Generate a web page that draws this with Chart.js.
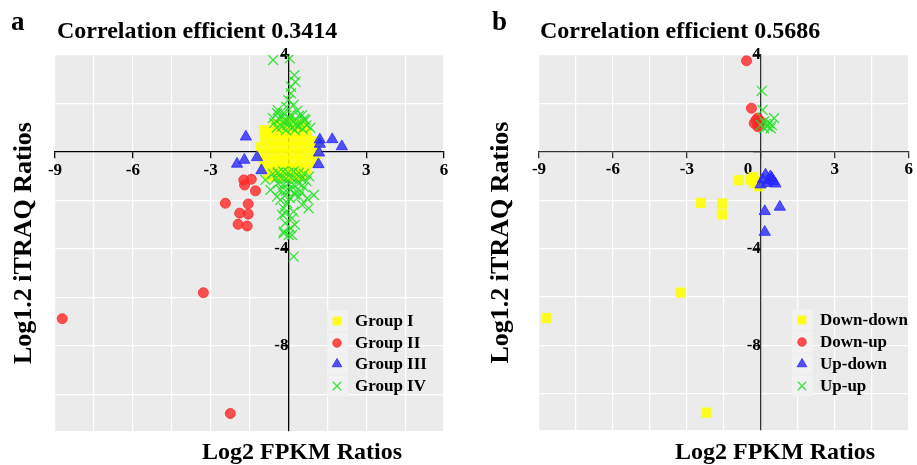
<!DOCTYPE html>
<html>
<head>
<meta charset="utf-8">
<script src="https://cdn.jsdelivr.net/npm/chart.js@4.4.1/dist/chart.umd.min.js"></script>
<style>
  body { margin: 0; background: #fff; }
  canvas { position: absolute; top: 0; }
</style>
</head>
<body>
<canvas id="chartA" width="458" height="465" style="left:0"></canvas>
<canvas id="chartB" width="459" height="465" style="left:458px"></canvas>
<script>
// axis ticks and grid positions
const xTicks = [-9, -6, -3, 0, 3, 6];
const yTicks = [4, 0, -4, -8];
const xGrid = [-9, -7.5, -6, -4.5, -3, -1.5, 0, 1.5, 3, 4.5, 6];
const yGrid = [4, 2, 0, -2, -4, -6, -8, -10];

// panel a
const titleA = 'Correlation efficient 0.3414';
const legendA = ['Group I', 'Group II', 'Group III', 'Group IV'];
const groupI = [
  [-0.93, 0.9],
  [-0.5, 1.15], [-0.2, 1.2], [0.1, 1.2], [0.4, 1.15], [0.6, 1.05],
  [-0.8, 0.8], [-0.5, 0.8], [-0.2, 0.8], [0.1, 0.8], [0.4, 0.8], [0.7, 0.75],
  [-0.9, 0.5], [-0.6, 0.5], [-0.3, 0.5], [0, 0.5], [0.3, 0.5], [0.6, 0.5], [0.9, 0.45],
  [-1.05, 0.2], [-0.7, 0.2], [-0.4, 0.2], [-0.1, 0.2], [0.2, 0.2], [0.5, 0.2], [0.8, 0.2], [1.05, 0.15],
  [-1.05, -0.1], [-0.7, -0.1], [-0.4, -0.1], [-0.1, -0.1], [0.2, -0.1], [0.5, -0.1], [0.8, -0.1], [1.05, -0.1],
  [-0.95, -0.4], [-0.65, -0.4], [-0.35, -0.4], [-0.05, -0.4], [0.25, -0.4], [0.55, -0.4], [0.9, -0.4],
  [-0.85, -0.7], [-0.55, -0.7], [-0.25, -0.7], [0.05, -0.7], [0.35, -0.7], [0.7, -0.7],
  [-0.75, -1.0], [-0.4, -1.0], [-0.1, -1.0], [0.2, -1.0], [0.5, -1.0]
];
const groupII = [
  [-1.72, -1.15], [-1.43, -1.12], [-1.69, -1.36], [-1.27, -1.6], [-2.43, -2.11],
  [-1.55, -2.14], [-1.88, -2.52], [-1.55, -2.56], [-1.94, -2.98], [-1.59, -3.05],
  [-3.28, -5.8], [-8.72, -6.87], [-2.24, -10.78]
];
const groupIII = [
  [-1.64, 0.63], [-1.7, -0.33], [-1.98, -0.49], [-1.21, -0.22], [-1.04, -0.76],
  [1.21, 0.51], [1.21, 0.33], [1.69, 0.52], [2.06, 0.23], [1.18, -0.03], [1.16, -0.51]
];
const groupIV = [
  [-0.59, 3.79], [0.05, 3.86], [0.23, 3.17], [0.27, 2.89], [0.1, 2.69], [0.1, 2.42],
  [0.0, 2.14], [-0.41, 1.73], [-0.08, 1.86], [0.34, 1.7], [0.53, 1.52], [-0.24, 1.45],
  [0.66, 1.32], [-0.44, 1.6], [0.2, 1.95],
  [-0.55, 1.2], [-0.35, 1.35], [-0.15, 1.25], [0.05, 1.4], [0.25, 1.3], [0.45, 1.2],
  [0.7, 1.1], [0.85, 1.0], [-0.45, 1.0], [-0.25, 1.05], [-0.05, 1.1], [0.15, 1.0],
  [0.35, 1.05], [0.55, 0.95], [-0.1, 0.9], [0.25, 0.9], [0.1, 1.55], [-0.2, 1.6],
  [0.4, 1.5], [0.6, 1.35], [-0.6, 1.4], [0.0, 1.25], [0.3, 1.15],
  [-0.89, -1.15], [-0.69, -1.56], [-0.44, -1.84], [-0.31, -1.98], [-0.18, -2.32],
  [-0.24, -2.59], [-0.12, -2.93], [0.08, -3.14], [-0.18, -3.35], [0.01, -3.42],
  [0.14, -2.73], [0.2, -2.46], [0.53, -2.18], [0.78, -2.32], [0.98, -1.77], [0.4, -1.84],
  [0.2, -4.31], [0.72, -1.91], [-0.12, -2.52], [0.14, -3.42], [-0.18, -3.28], [0.25, -3.0],
  [-0.05, -2.1],
  [-0.6, -0.9], [-0.4, -0.85], [-0.2, -0.8], [0.0, -0.85], [0.2, -0.8], [0.4, -0.85],
  [0.6, -0.9], [0.8, -1.0], [-0.5, -1.1], [-0.3, -1.05], [-0.1, -1.1], [0.1, -1.05],
  [0.3, -1.1], [0.5, -1.1], [0.7, -1.2], [-0.4, -1.3], [-0.2, -1.35], [0.0, -1.3],
  [0.2, -1.35], [0.4, -1.3], [0.6, -1.45], [-0.3, -1.55], [-0.1, -1.6], [0.1, -1.55],
  [0.3, -1.6], [0.5, -1.65], [-0.15, -1.8], [0.05, -1.9], [0.25, -1.75]
];

// panel b
const titleB = 'Correlation efficient 0.5686';
const legendB = ['Down-down', 'Down-up', 'Up-down', 'Up-up'];
const downDown = [
  [-0.89, -1.18], [-0.42, -1.15], [-0.28, -1.29], [-0.08, -1.43], [-0.3, -1.05],
  [0.05, -1.3], [-0.15, -1.2], [-2.43, -2.11], [-1.56, -2.14], [-1.58, -2.59],
  [-3.25, -5.82], [-8.71, -6.87], [-2.22, -10.78]
];
const downUp = [
  [-0.58, 3.76], [-0.38, 1.8], [-0.13, 1.39], [-0.27, 1.18], [-0.07, 1.11],
  [-0.13, 1.04], [0.0, 1.25], [-0.2, 1.3]
];
const upDown = [
  [0.08, -1.15], [0.32, -1.18], [0.52, -1.22], [0.19, -0.95], [-0.01, -1.36],
  [0.39, -1.02], [0.59, -1.32], [0.25, -1.3], [0.45, -1.1], [0.16, -2.46],
  [0.77, -2.28], [0.16, -3.32]
];
const upUp = [
  [0.04, 2.52], [0.07, 1.73], [0.54, 1.39], [0.34, 1.18], [0.27, 1.04], [0.13, 1.25],
  [0.0, 1.11], [0.4, 0.97], [0.13, 0.97], [0.45, 1.1], [0.2, 1.15]
];

const serif = '"Liberation Serif", "Times New Roman", serif';

const markStyles = [
  { pointStyle: 'rect', pointRadius: 6.5, backgroundColor: 'rgba(255,255,0,0.85)', borderColor: 'rgba(255,255,0,0.85)', borderWidth: 1, order: 4 },
  { pointStyle: 'circle', pointRadius: 5, backgroundColor: 'rgba(255,40,40,0.8)', borderColor: 'rgba(255,40,40,0.8)', borderWidth: 1, order: 3 },
  { pointStyle: 'triangle', pointRadius: 6.5, backgroundColor: 'rgba(40,40,255,0.8)', borderColor: 'rgba(40,40,255,0.8)', borderWidth: 1, order: 2 },
  { pointStyle: 'crossRot', pointRadius: 7, backgroundColor: 'rgba(40,225,40,0.9)', borderColor: 'rgba(40,225,40,0.9)', borderWidth: 1.3, order: 1 }
];

function toPts(arr) {
  return arr.map(p => ({ x: p[0], y: p[1] }));
}

const plotBg = {
  id: 'plotBg',
  beforeDraw(chart) {
    const { ctx, chartArea: a } = chart;
    ctx.save();
    ctx.fillStyle = '#ebebeb';
    ctx.fillRect(a.left, a.top, a.right - a.left, a.bottom - a.top);
    ctx.restore();
  }
};

// panel letter, title, x title and legend
const texts = {
  id: 'texts',
  afterDraw(chart, args, o) {
    const ctx = chart.ctx;
    ctx.save();
    ctx.fillStyle = '#000';
    ctx.textBaseline = 'alphabetic';
    ctx.font = 'bold 27px ' + serif;
    ctx.fillText(o.letter, o.letterX, 30);
    ctx.font = 'bold 24px ' + serif;
    ctx.fillText(o.title, o.titleX, 38);
    ctx.textAlign = 'center';
    ctx.fillText('Log2 FPKM Ratios', o.xTitleX, 459);

    ctx.textAlign = 'left';
    ctx.textBaseline = 'middle';
    chart.data.datasets.forEach((ds, i) => {
      const y = o.legendY[i];
      ctx.fillStyle = '#f2f2f2';
      ctx.fillRect(o.legendX - 10, y - 10.5, 21, 21);
      ctx.fillStyle = ds.backgroundColor;
      ctx.strokeStyle = ds.borderColor;
      ctx.lineWidth = ds.borderWidth;
      Chart.helpers.drawPoint(ctx, { pointStyle: ds.pointStyle, radius: ds.pointRadius * 0.85, borderWidth: ds.borderWidth, rotation: 0 }, o.legendX, y);
      ctx.fillStyle = '#000';
      ctx.font = 'bold 17px ' + serif;
      ctx.fillText(ds.label, o.legendX + 18, y + 1);
    });
    ctx.restore();
  }
};

function makeChart(id, sets, labels, layout, textOpts, axisColor) {
  const tickFont = { family: serif, size: 17, weight: 'bold' };
  const gridScale = (ticks) => ({
    type: 'linear',
    afterBuildTicks: s => { s.ticks = ticks.map(v => ({ value: v })); },
    ticks: { display: false },
    grid: { color: '#ffffff', lineWidth: 1.2, drawTicks: false },
    border: { display: false }
  });
  return new Chart(document.getElementById(id), {
    type: 'scatter',
    data: {
      datasets: sets.map((s, i) => Object.assign({ label: labels[i], data: toPts(s) }, markStyles[i]))
    },
    options: {
      responsive: false,
      animation: false,
      events: [],
      layout: { padding: layout.padding },
      plugins: {
        legend: { display: false },
        tooltip: { enabled: false },
        texts: textOpts
      },
      scales: {
        x: Object.assign(gridScale(xGrid), {
          min: -9, max: 6, position: 'bottom',
          afterFit: s => { s.height = layout.xHeight; }
        }),
        y: Object.assign(gridScale(yGrid), {
          min: -11.5, max: 4, position: 'left',
          title: { display: true, text: 'Log1.2 iTRAQ Ratios', color: '#000', padding: 0,
                   font: { family: serif, size: 26, weight: 'bold' } },
          afterFit: s => { s.width = layout.yWidth; }
        }),
        xAxis: {
          type: 'linear', axis: 'x', min: -9, max: 6, position: { y: 0 },
          afterBuildTicks: s => { s.ticks = xTicks.map(v => ({ value: v })); },
          ticks: { color: '#000', font: tickFont, padding: 2, maxRotation: 0, autoSkip: false,
                   callback: v => v === 0 ? '0      ' : String(v) },
          grid: { drawOnChartArea: false, color: axisColor, tickLength: 6, lineWidth: 1.3 },
          border: { color: axisColor, width: 1.3 }
        },
        yAxis: {
          type: 'linear', axis: 'y', min: -11.5, max: 4, position: { x: 0 },
          afterBuildTicks: s => { s.ticks = yTicks.map(v => ({ value: v })); },
          ticks: { color: '#000', font: tickFont, padding: 1, autoSkip: false,
                   callback: v => v === 0 ? '' : String(v) },
          grid: { drawOnChartArea: false, color: axisColor, tickLength: 7, lineWidth: 1.3 },
          border: { color: axisColor, width: 1.3 }
        }
      }
    },
    plugins: [plotBg, texts]
  });
}

makeChart('chartA', [groupI, groupII, groupIII, groupIV], legendA,
  { padding: { left: 9, top: 55, right: 14, bottom: 0 }, xHeight: 34, yWidth: 46 },
  { letter: 'a', letterX: 11, title: titleA, titleX: 57, xTitleX: 302,
    legendX: 337, legendY: [321, 343, 364, 386] },
  '#000');

makeChart('chartB', [downDown, downUp, upDown, upUp], legendB,
  { padding: { left: 28, top: 55, right: 6, bottom: 0 }, xHeight: 35, yWidth: 53 },
  { letter: 'b', letterX: 34, title: titleB, titleX: 82, xTitleX: 317,
    legendX: 344, legendY: [320, 342, 364, 386] },
  '#333');
</script>
</body>
</html>
